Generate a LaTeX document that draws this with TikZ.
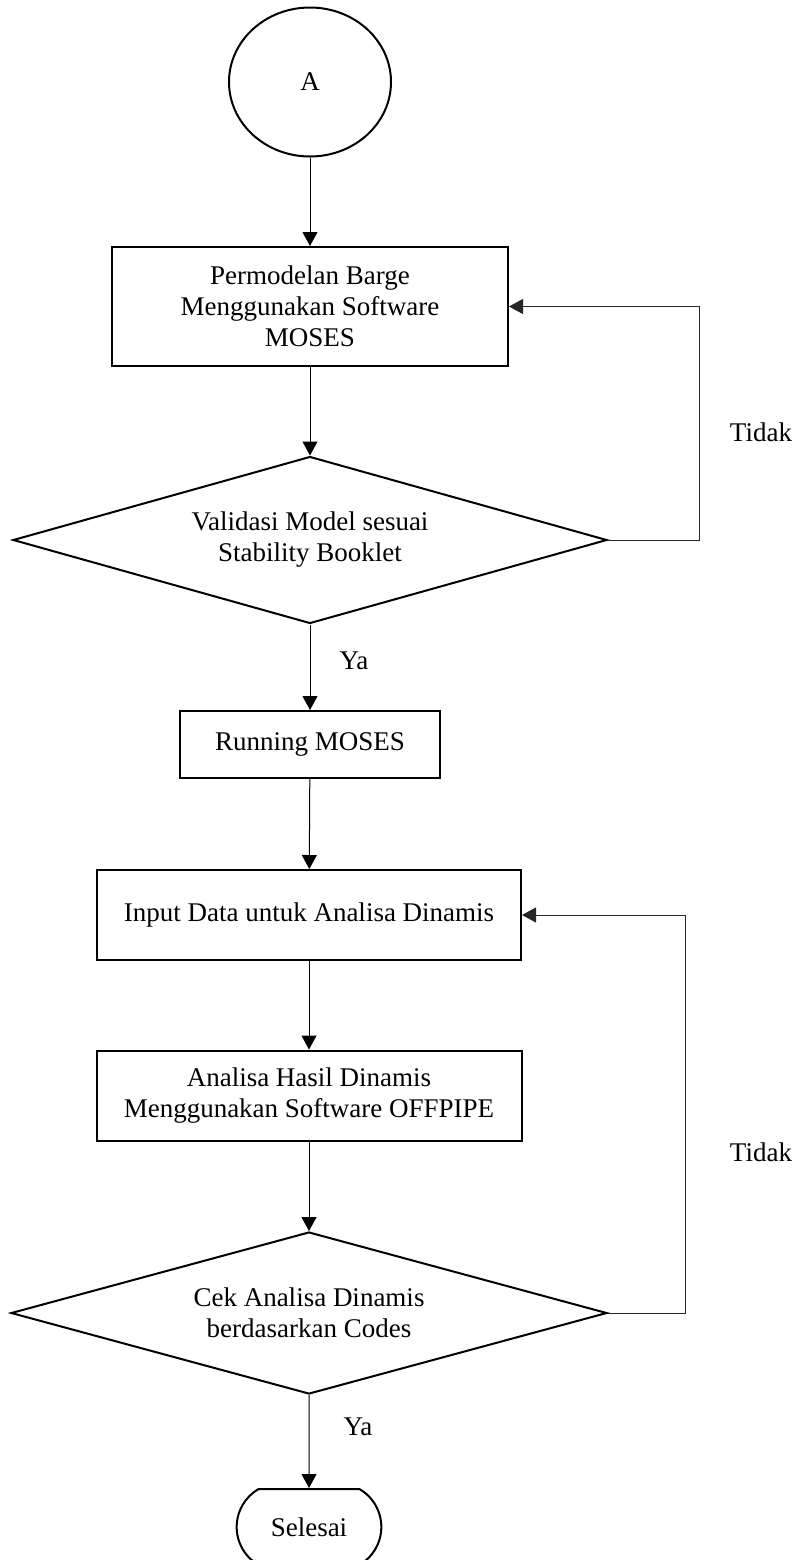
\documentclass[tikz,border=0pt]{standalone}
\usepackage{fontspec}
\setmainfont{Liberation Serif}
\usetikzlibrary{arrows.meta,positioning,shapes.geometric,shapes.misc}

\begin{document}
\begin{tikzpicture}[x=0.5pt,y=-0.5pt,
  font=\fontsize{13.5}{15.5}\selectfont,
  proc/.style={draw,line width=1pt,align=center,inner sep=2pt},
  decide/.style={draw,diamond,shape aspect=3.5,line width=1pt,align=center,inner sep=1pt},
  arr/.style={-{Triangle[length=7pt,width=7.5pt]},line width=0.5pt},
  back/.style={-{Triangle[length=7pt,width=7.5pt]},line width=0.5pt,black!85}
]
  \useasboundingbox (0,0) rectangle (806,1560);

  % Start
  \node[draw,ellipse,line width=1pt,minimum width=81pt,minimum height=74.5pt] (start) at (310,82) {A};

  % Model
  \node[proc,minimum width=198pt,minimum height=59.5pt] (perm) at (310,306.5)
    {Permodelan Barge\\Menggunakan Software\\MOSES};
  \node[decide,minimum width=297pt,minimum height=83.5pt] (valid) at (310,540)
    {Validasi Model sesuai\\Stability Booklet};
  \node[proc,minimum width=130pt,minimum height=33.5pt] (run) at (310,744.5) {Running MOSES};

  % Dynamic analysis
  \node[proc,minimum width=212pt,minimum height=45pt] (input) at (309,915)
    {Input Data untuk Analisa Dinamis};
  \node[proc,minimum width=212.5pt,minimum height=45pt] (hasil) at (309,1095.5)
    {Analisa Hasil Dinamis\\Menggunakan Software OFFPIPE};
  \node[decide,minimum width=298pt,minimum height=81pt] (cek) at (309,1313)
    {Cek Analisa Dinamis\\berdasarkan Codes};

  % End
  \node[draw,rounded rectangle,rounded rectangle arc length=120,line width=1pt,
    minimum width=79pt,minimum height=38pt] (selesai) at (309,1527) {Selesai};

  % Labels
  \node (tidak1) at (761,432) {Tidak};
  \node (tidak2) at (761,1152) {Tidak};
  \node (ya1) at (354,661) {Ya};
  \node (ya2) at (358,1427) {Ya};

  % Flow
  \draw[arr] (start) -- (perm);
  \draw[arr] (perm) -- (valid);
  \draw[arr] (valid) -- (run);
  \draw[arr] (run) -- (input);
  \draw[arr] (input) -- (hasil);
  \draw[arr] (hasil) -- (cek);
  \draw[arr] (cek) -- (selesai);

  % Loops
  \draw[back] (valid.east) -- ++(91,0) |- (perm.east);
  \draw[back] (cek.east) -- ++(77,0) |- (input.east);
\end{tikzpicture}
\end{document}
